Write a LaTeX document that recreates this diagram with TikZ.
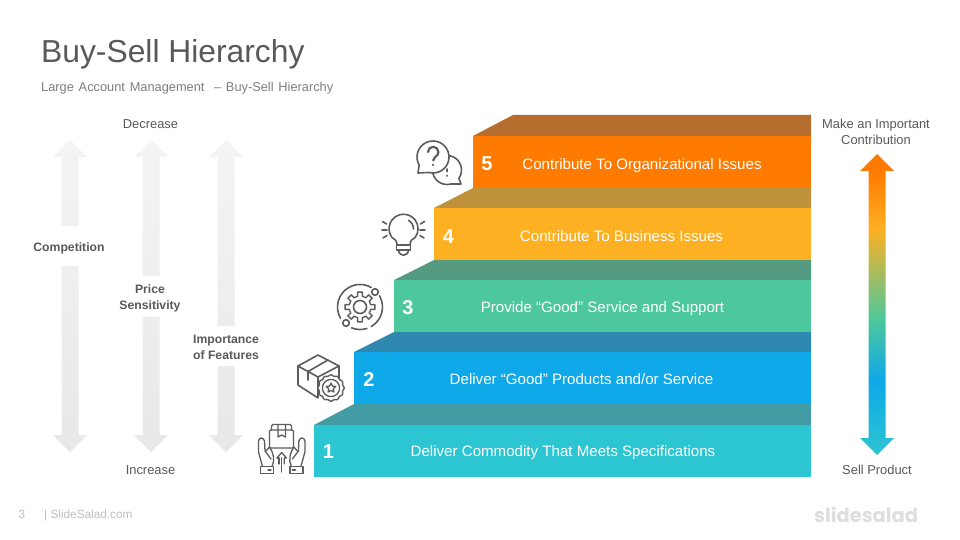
\documentclass[tikz,border=0pt]{standalone}
\usepackage{fontspec}
\setmainfont{Liberation Sans}
\newfontfamily\logofont{Poppins}
\definecolor{txtdark}{HTML}{595959}
\definecolor{txtsub}{HTML}{7F7F7F}
\definecolor{txtfoot}{HTML}{BFBFBF}
\definecolor{logogray}{HTML}{DEDEDE}
\definecolor{iconc}{HTML}{5C5C5C}
\definecolor{frontA}{HTML}{2CC5D2}
\definecolor{topA}{HTML}{439BA3}
\definecolor{frontB}{HTML}{0FA8E8}
\definecolor{topB}{HTML}{2E88B0}
\definecolor{frontC}{HTML}{4DC89C}
\definecolor{topC}{HTML}{549B82}
\definecolor{frontD}{HTML}{FDB022}
\definecolor{topD}{HTML}{BE923A}
\definecolor{frontE}{HTML}{FF7A00}
\definecolor{topE}{HTML}{B56E2E}
\definecolor{arrowtop}{HTML}{F4F4F4}
\definecolor{arrowbot}{HTML}{E8E8E8}
\pgfdeclareverticalshading{stairshade}{100bp}{color(0bp)=(frontA); color(25bp)=(frontA); color(37.5bp)=(frontB); color(47.5bp)=(frontC); color(62.5bp)=(frontD); color(72bp)=(frontE); color(100bp)=(frontE)}
\tikzset{
  x=1pt,y=-1pt,
  lbl/.style={inner sep=0pt,text=txtdark,font=\fontsize{12.9}{16}\selectfont,align=center},
  lblbold/.style={inner sep=0pt,text=txtdark,font=\fontsize{12.2}{16}\selectfont\bfseries,align=center},
  stepfront/.style={inner sep=0pt,text=white,font=\fontsize{15.1}{16}\selectfont,anchor=base},
  stepnum/.style={inner sep=0pt,text=white,font=\fontsize{20}{20}\selectfont\bfseries,anchor=base},
  grayarrow/.style={top color=arrowtop,bottom color=arrowbot,draw=none},
  icon/.style={draw=iconc,line width=1.6pt,line join=round,line cap=round},
  iconfill/.style={icon,fill=white},
  iconthin/.style={icon,line width=1.3pt},
}
\begin{document}
\begin{tikzpicture}
\useasboundingbox (0,0) rectangle (960,540);
\fill[white] (0,0) rectangle (960,540);

% title
\node[anchor=base west,inner sep=0pt,text=txtdark,font=\fontsize{31.8}{34}\selectfont] (title) at (41,63) {Buy-Sell Hierarchy};
\node[anchor=base west,inner sep=0pt,text=txtsub,font=\fontsize{12.8}{14}\selectfont] (subtitle) at (41,92) {\spaceskip=4.8pt\relax Large Account Management~~– Buy-Sell Hierarchy};

% gray arrows
\shade[grayarrow] (70,140) -- (87,157) -- (78.5,157) -- (78.5,226) -- (61.5,226) -- (61.5,157) -- (53,157) -- cycle
  (61.5,266) -- (78.5,266) -- (78.5,435) -- (87,435) -- (70,452) -- (53,435) -- (61.5,435) -- cycle;
\shade[grayarrow] (151,140) -- (168,157) -- (159.5,157) -- (159.5,276) -- (142.5,276) -- (142.5,157) -- (134,157) -- cycle
  (142.5,317) -- (159.5,317) -- (159.5,435) -- (168,435) -- (151,452) -- (134,435) -- (142.5,435) -- cycle;
\shade[grayarrow] (226,140) -- (243,157) -- (234.5,157) -- (234.5,326) -- (217.5,326) -- (217.5,157) -- (209,157) -- cycle
  (217.5,366) -- (234.5,366) -- (234.5,435) -- (243,435) -- (226,452) -- (209,435) -- (217.5,435) -- cycle;

\node[lbl,anchor=base] (decrease) at (150.5,129) {Decrease};
\node[lbl,anchor=base] (increase) at (150.5,474) {Increase};
\node[lblbold,anchor=base] (competition) at (69,251) {Competition};
\node[lblbold] (price) at (150,298) {Price\\Sensitivity};
\node[lblbold] (importance) at (226,347) {Importance\\of Features};

% steps
\fill[topA] (314,425) -- (354,404) -- (811,404) -- (811,425) -- cycle;
\fill[frontA] (314,425) rectangle (811,477);
\fill[topB] (354,352) -- (394,332) -- (811,332) -- (811,352) -- cycle;
\fill[frontB] (354,352) rectangle (811,404);
\fill[topC] (394,280) -- (434,260) -- (811,260) -- (811,280) -- cycle;
\fill[frontC] (394,280) rectangle (811,332);
\fill[topD] (434,208) -- (473,188) -- (811,188) -- (811,208) -- cycle;
\fill[frontD] (434,208) rectangle (811,260);
\fill[topE] (473,136) -- (513,115) -- (811,115) -- (811,136) -- cycle;
\fill[frontE] (473,136) rectangle (811,188);

\node[stepnum] (n1) at (328.5,458) {1};
\node[stepnum] (n2) at (369,386) {2};
\node[stepnum] (n3) at (408,314) {3};
\node[stepnum] (n4) at (448.5,243) {4};
\node[stepnum] (n5) at (487,171) {5};
\node[stepfront] (t1) at (563,456) {Deliver Commodity That Meets Specifications};
\node[stepfront] (t2) at (581.5,384) {Deliver “Good” Products and/or Service};
\node[stepfront] (t3) at (602.5,312) {Provide “Good” Service and Support};
\node[stepfront] (t4) at (621.5,241) {Contribute To Business Issues};
\node[stepfront] (t5) at (642,169.5) {Contribute To Organizational Issues};

% right arrow
\shade[shading=stairshade] (877,154) -- (894,171) -- (885.5,171) -- (885.5,438) -- (894,438) -- (877,455) -- (860,438) -- (868.5,438) -- (868.5,171) -- (860,171) -- cycle;
\node[lbl] (make) at (876,132) {Make an Important\\Contribution};
\node[lbl,anchor=base] (sell) at (877,474) {Sell Product};

% footer
\node[anchor=base,inner sep=0pt,text=txtfoot,font=\fontsize{11.8}{14}\selectfont] (page) at (22,518) {3};
\node[anchor=base west,inner sep=0pt,text=txtfoot,font=\fontsize{11.8}{14}\selectfont] (foot) at (44,518) {| SlideSalad.com};
\node[anchor=base west,inner sep=0pt,text=logogray,font=\fontsize{19.5}{26}\selectfont\logofont\bfseries] (logo) at (814,522) {slidesalad};

% icon 5: chat bubbles
\draw[iconfill] (447,170) ++(75:14.5) arc[start angle=75,end angle=395,radius=14.5] -- (461,184) -- cycle;
\draw[icon] (447,169) -- (447,171.5);
\draw[icon] (447,175.5) -- (447,176);
\draw[iconfill] (433,157) ++(105:16) arc[start angle=105,end angle=-210,radius=16] -- (418,173) -- cycle;
\draw[icon,line width=2.2pt] (428,152) arc[start angle=180,end angle=390,radius=5.2] .. controls (436,157.5) and (433.2,157.5) .. (433.2,160.5);
\draw[icon,line width=2.4pt] (433.2,164.8) -- (433.2,165);

% icon 4: bulb
\draw[icon] (397,245) .. controls (397,240) and (394,239) .. (392,237.5)
  arc[start angle=143,end angle=397,radius=14.5] .. controls (413,239) and (410,240) .. (410,245) -- cycle;
\draw[icon] (403.5,229) ++(-60:10) arc[start angle=-60,end angle=0,radius=10];
\draw[icon] (396.5,245) -- (396.5,250) -- (410.5,250) -- (410.5,245);
\draw[icon] (398.5,250) .. controls (399,257) and (408,257) .. (408.5,250);
\draw[icon] (382.5,221.5) -- (386.5,224);
\draw[icon] (382,230) -- (387,230);
\draw[icon] (383,238) -- (387,235.5);
\draw[icon] (424.5,221.5) -- (420.5,224);
\draw[icon] (425,230) -- (420,230);
\draw[icon] (424,238) -- (420,235.5);

% icon 3: gear
\draw[icon] (360,307) ++(150:22.5) arc[start angle=150,end angle=300,radius=22.5];
\draw[icon] (360,307) ++(-30:22.5) arc[start angle=-30,end angle=60,radius=22.5];
\draw[icon] (360,307) ++(72:22.5) arc[start angle=72,end angle=112,radius=22.5];
\draw[iconfill] (375,292) circle[radius=3.3];
\draw[iconfill] (346,323) circle[radius=3.3];
\draw[icon,line width=1.4pt] ({360+11*cos(-12)},{307+11*sin(-12)})
  \foreach \a in {0,45,...,315} { -- ({360+11*cos(\a-12)},{307+11*sin(\a-12)}) -- ({360+15*cos(\a-9)},{307+15*sin(\a-9)}) -- ({360+15*cos(\a+9)},{307+15*sin(\a+9)}) -- ({360+11*cos(\a+12)},{307+11*sin(\a+12)}) } -- cycle;
\draw[icon] (360,307) circle[radius=6.5];

% icon 2: box with badge
\draw[icon] (298,366) -- (318,355) -- (339,366) -- (339,378);
\draw[icon] (298,366) -- (298,385) -- (318,398);
\draw[icon] (298,366) -- (318,377) -- (339,366);
\draw[icon] (318,377) -- (318,397);
\draw[icon] (328,360) -- (308,371.5) -- (308,380);
\draw[icon,fill=white,line width=1.4pt] plot[domain=0:360,samples=73,smooth] ({331+(12.6+0.6*cos(12*\x))*cos(\x)},{388+(12.6+0.6*cos(12*\x))*sin(\x)}) -- cycle;
\draw[iconthin] (331,388) circle[radius=8.6];
\draw[iconthin] ({331+5*cos(-90)},{388+5*sin(-90)})
  \foreach \a in {-90,-18,54,126,198} { -- ({331+5*cos(\a)},{388+5*sin(\a)}) -- ({331+2.4*cos(\a+36)},{388+2.4*sin(\a+36)}) } -- cycle;

% icon 1: hands and box
\draw[iconthin] (271.5,430) -- (271.5,426) -- (273,424.5) -- (290,424.5) -- (291.5,426) -- (291.5,430);
\draw[iconthin,rounded corners=1pt] (269.5,430) rectangle (293.5,448);
\draw[iconthin] (278,424.5) -- (278,437) -- (281.7,435) -- (285.4,437) -- (285.4,424.5);
\draw[iconthin] (277,458) -- (281.7,452.5) -- (286.4,458) -- (284.3,458) -- (284.3,464);
\draw[iconthin] (277,458) -- (279.1,458) -- (279.1,464);
\draw[iconthin,densely dotted] (281.7,458) -- (281.7,472);
\foreach \mirr/\off in {1/0,-1/563.4} {
  \begin{scope}[shift={(\off,0)},xscale=\mirr]
    \draw[iconthin] (260.5,466.5) rectangle (273.5,473.5);
    \draw[iconthin] (268,470) -- (271,470);
    \draw[iconthin] (262.5,466.5) -- (258.5,452) -- (258.5,441) .. controls (259,437) and (263.5,437) .. (264.5,441) -- (265,451) -- (271,459);
    \draw[iconthin] (272,466.5) .. controls (275.5,460) and (273,452) .. (269.5,447) -- (266,451);
  \end{scope}
}
\end{tikzpicture}
\end{document}
